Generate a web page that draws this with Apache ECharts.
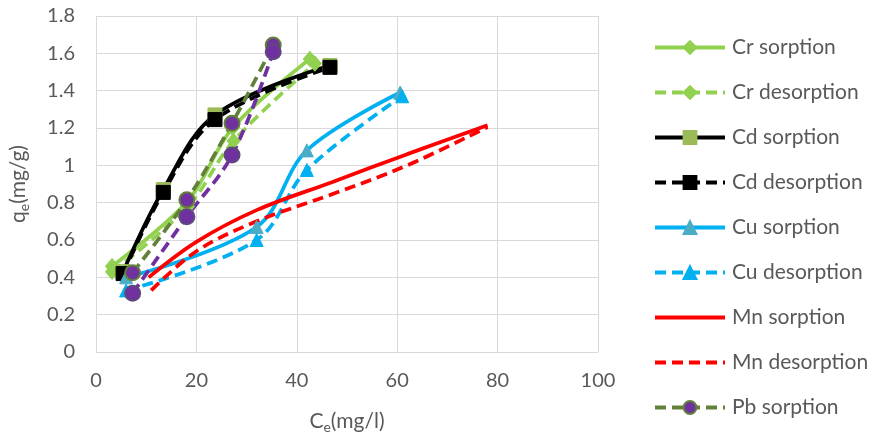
<!DOCTYPE html>
<html><head><meta charset="utf-8">
<script src="https://cdn.jsdelivr.net/npm/echarts@6/dist/echarts.min.js"></script>
<style>html,body{margin:0;padding:0;background:#fff}#c{width:878px;height:442px}</style>
</head><body><div id="c"></div>
<script>
const xTicks = [0, 20, 40, 60, 80, 100];
const yTicks = [0, 0.2, 0.4, 0.6, 0.8, 1, 1.2, 1.4, 1.6, 1.8];

const crSorpX = [3.2, 18.3, 27.2, 42.6];
const crSorpY = [0.46, 0.81, 1.20, 1.57];
const crDesX = [3.2, 18.3, 27.4, 43.6];
const crDesY = [0.43, 0.78, 1.13, 1.545];
const cdSorpX = [5.4, 13.4, 23.7, 46.6];
const cdSorpY = [0.43, 0.87, 1.27, 1.535];
const cdDesX = [5.4, 13.4, 23.7, 46.6];
const cdDesY = [0.42, 0.855, 1.245, 1.525];
const cuSorpX = [6.0, 32.0, 42.0, 60.6];
const cuSorpY = [0.40, 0.67, 1.08, 1.39];
const cuDesX = [6.0, 32.0, 42.0, 61.0];
const cuDesY = [0.33, 0.60, 0.975, 1.37];
const mnSorpX = [10.5, 20, 32, 47, 62, 78];
const mnSorpY = [0.40, 0.59, 0.76, 0.91, 1.06, 1.215];
const mnDesX = [11, 20, 32, 47, 62, 78];
const mnDesY = [0.33, 0.54, 0.70, 0.845, 1.0, 1.205];
const pbSorpX = [7.3, 18.1, 27.1, 35.3];
const pbSorpY = [0.425, 0.815, 1.225, 1.644];
const pbDesX = [7.3, 18.1, 27.1, 35.3];
const pbDesY = [0.315, 0.725, 1.055, 1.608];

const names = ['Cr sorption','Cr desorption','Cd sorption','Cd desorption','Cu sorption','Cu desorption','Mn sorption','Mn desorption','Pb sorption','Pb desorption'];

function pts(xs, ys){ return xs.map((x,i)=>[x, ys[i]]); }
const FONT = 'Lato';
const TXT = '#595959';

function ser(name, xs, ys, o){
  return {
    name: name, type: 'line', data: pts(xs, ys), smooth: o.smooth ?? 0.35,
    symbol: o.symbol || 'none', symbolSize: o.size || 12,
    lineStyle: {color: o.color, width: 3.75, type: o.dash ? [11, 6] : 'solid', cap: 'butt'},
    itemStyle: {color: o.mfill || o.color, borderColor: o.mborder || o.mfill || o.color, borderWidth: o.bw ?? 1},
    emphasis: {disabled: true}, animation: false
  };
}

const series = [
  ser(names[0], crSorpX, crSorpY, {color:'#92D050', symbol:'diamond', size:[13,15]}),
  ser(names[1], crDesX, crDesY, {color:'#92D050', symbol:'diamond', size:[13,15], dash:true}),
  ser(names[2], cdSorpX, cdSorpY, {color:'#000000', symbol:'rect', size:14, mfill:'#9BBB59'}),
  ser(names[3], cdDesX, cdDesY, {color:'#000000', symbol:'rect', size:14, mfill:'#000000', dash:true}),
  ser(names[4], cuSorpX, cuSorpY, {color:'#00B0F0', symbol:'triangle', size:13, mfill:'#4BACC6'}),
  ser(names[5], cuDesX, cuDesY, {color:'#00B0F0', symbol:'triangle', size:13, mfill:'#00B0F0', dash:true}),
  ser(names[6], mnSorpX, mnSorpY, {color:'#FF0000'}),
  ser(names[7], mnDesX, mnDesY, {color:'#FF0000', dash:true}),
  ser(names[8], pbSorpX, pbSorpY, {color:'#63803A', symbol:'circle', size:15, mfill:'#7030A0', mborder:'#63803A', bw:2, dash:true}),
  ser(names[9], pbDesX, pbDesY, {color:'#7030A0', symbol:'circle', size:15, mfill:'#7030A0', mborder:'#5E4A7A', bw:2, dash:true})
];

const legendData = names.slice(0, 9).map(n => n.startsWith('Mn')
  ? {name: n, itemStyle: {color: 'rgba(0,0,0,0)', borderColor: 'rgba(0,0,0,0)', borderWidth: 0}}
  : {name: n});

const chart = echarts.init(document.getElementById('c'), null, {renderer:'canvas'});
chart.setOption({
  animation: false,
  backgroundColor: '#ffffff',
  textStyle: {fontFamily: FONT},
  grid: {left: 96, right: 280, top: 16, bottom: 90, containLabel: false},
  xAxis: {
    type: 'value', min: xTicks[0], max: xTicks[xTicks.length-1], interval: xTicks[1]-xTicks[0],
    axisLine: {show: false}, axisTick: {show: false},
    splitLine: {show: true, lineStyle: {color: '#D9D9D9', width: 1}},
    axisLabel: {color: TXT, fontSize: 20, fontFamily: FONT, margin: 19},
    name: '{a|C}{s|e}{a|(mg/l)}', nameLocation: 'middle', nameGap: 57,
    nameTextStyle: {rich: {a: {fontSize: 21, color: TXT, fontFamily: FONT}, s: {fontSize: 14, color: TXT, fontFamily: FONT, verticalAlign: 'bottom', padding: [11,0,0,0]}}}
  },
  yAxis: {
    type: 'value', min: yTicks[0], max: yTicks[yTicks.length-1], interval: 0.2,
    axisLine: {show: false}, axisTick: {show: false},
    splitLine: {show: true, lineStyle: {color: '#D9D9D9', width: 1}},
    axisLabel: {color: TXT, fontSize: 20, fontFamily: FONT, margin: 21, formatter: v => String(Math.round(v*10)/10)},
    name: '{a|q}{s|e}{a|(mg/g)}', nameLocation: 'middle', nameGap: 65, nameRotate: 90,
    nameTextStyle: {rich: {a: {fontSize: 21, color: TXT, fontFamily: FONT}, s: {fontSize: 14, color: TXT, fontFamily: FONT, verticalAlign: 'bottom', padding: [11,0,0,0]}}}
  },
  legend: {
    data: legendData, orient: 'vertical', left: 653, top: 37, padding: 0,
    itemWidth: 70, itemHeight: 16, itemGap: 24,
    lineStyle: {width: 4},
    textStyle: {color: TXT, fontSize: 21, fontFamily: FONT, lineHeight: 20, padding: [0,0,0,2]},
    selectedMode: false
  },
  series: series
});
</script></body></html>
